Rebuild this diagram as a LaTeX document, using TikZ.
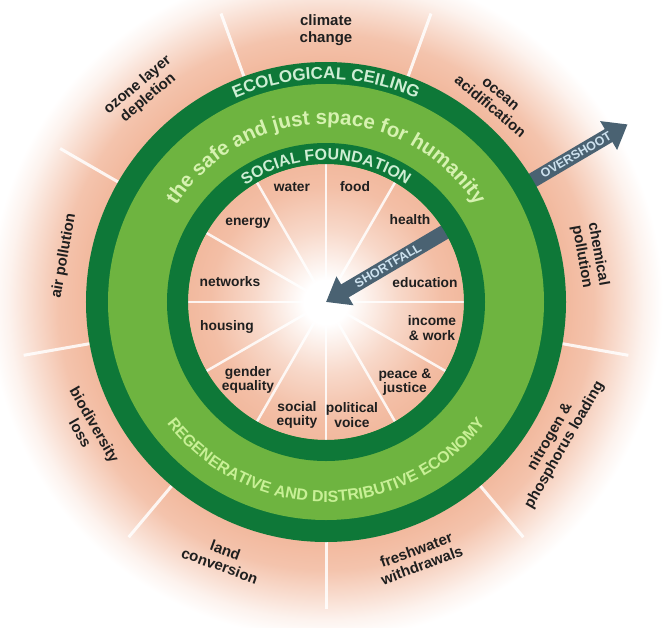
\documentclass[tikz,border=0pt]{standalone}
\usepackage{fontspec}
\setmainfont{Liberation Sans}
\usetikzlibrary{arrows.meta,decorations.text}

\definecolor{darkring}{RGB}{14,120,56}
\definecolor{lightring}{RGB}{110,180,64}
\definecolor{salmon}{RGB}{242,185,158}
\definecolor{slate}{RGB}{74,98,114}
\definecolor{mint}{RGB}{206,238,212}
\definecolor{leaf}{RGB}{214,242,176}
\definecolor{sprout}{RGB}{200,240,150}
\definecolor{sky}{RGB}{205,225,238}

% radius of the shaded disc = 25bp
\pgfdeclareradialshading{innerglow}{\pgfpoint{0bp}{0bp}}{color(0bp)=(white); color(4bp)=(white); color(13bp)=(salmon!55!white); color(21bp)=(salmon!92!white); color(25bp)=(salmon); color(50bp)=(salmon)}
\pgfdeclareradialshading{outerglow}{\pgfpoint{0bp}{0bp}}{color(0bp)=(salmon); color(17.4bp)=(salmon); color(19.4bp)=(salmon!85!white); color(21.2bp)=(salmon!52!white); color(23bp)=(salmon!18!white); color(24.4bp)=(white); color(50bp)=(white)}

\begin{document}
\begin{tikzpicture}[x=1pt,y=1pt,
    inner/.style={font=\bfseries\fontsize{13.8}{14.5}\selectfont, align=center, text=black!88},
    outer/.style={font=\bfseries\fontsize{15}{16.5}\selectfont, align=center, text=black!88},
    spoke/.style={white, opacity=0.85, line width=2.5pt},
    bigarrow/.style={slate, line width=15pt, -{Triangle[length=22pt,width=32pt]}},
    arrowtext/.style={font=\bfseries\fontsize{12.5}{12.5}\selectfont, text=sky}]
  \useasboundingbox (-326,-325) rectangle (337,302);
  \shade[shading=outerglow] (0,0) circle (345);
  \foreach \a in {-170,-130,...,150}
    \draw[spoke, line width=3pt] (\a:240) -- (\a:307);

  \coordinate (osTail) at (30.5:225);
  \coordinate (osTip) at (30.5:350);
  \draw[bigarrow] (osTail) -- (osTip);

  \fill[darkring] (0,0) circle (240);
  \fill[lightring] (0,0) circle (218);
  \shade[shading=innerglow] (0,0) circle (138);
  \foreach \a in {0,30,...,330}
    \draw[spoke] (0,0) -- (\a:139);

  \coordinate (sfTail) at (30.5:150);
  \coordinate (sfTip) at (0,0);
  \draw[bigarrow] (sfTail) -- (sfTip);
  \fill[darkring, even odd rule] (0,0) circle (159) (0,0) circle (138);

  % ring texts
  \path[decorate, decoration={text along path, text align=center, text color=mint,
      text={|\bfseries\fontsize{17}{17}\selectfont|ECOLOGICAL CEILING}}]
    (150:223) arc[start angle=150, end angle=30, radius=223];
  \path[decorate, decoration={text along path, text align=center, text color=leaf,
      text={|\bfseries\fontsize{20.5}{20.5}\selectfont|the safe and just space for humanity}}]
    (165:178) arc[start angle=165, end angle=15, radius=178];
  \path[decorate, decoration={text along path, text align=center, text color=mint,
      text={|\bfseries\fontsize{16}{16}\selectfont|SOCIAL FOUNDATION}}]
    (150:142) arc[start angle=150, end angle=30, radius=142];
  \path[decorate, decoration={text along path, text align=center, text color=sprout,
      text={|\bfseries\fontsize{16}{16}\selectfont|REGENERATIVE AND DISTRIBUTIVE ECONOMY}}]
    (-165:200) arc[start angle=-165, end angle=-15, radius=200];

  \node[arrowtext, rotate=30.5] (short) at (30.5:72) {SHORTFALL};
  \node[arrowtext, rotate=30.5] (over) at (30.5:290) {OVERSHOOT};

  % social foundation
  \node[inner] (food) at (29,115) {food};
  \node[inner] (water) at (-34,115) {water};
  \node[inner] (health) at (84,82) {health};
  \node[inner] (energy) at (-78,79) {energy};
  \node[inner] (education) at (99,19) {education};
  \node[inner] (networks) at (-96,20) {networks};
  \node[inner] (income) at (106,-26) {income\\\& work};
  \node[inner] (housing) at (-99,-25) {housing};
  \node[inner] (peace) at (79,-80) {peace \&\\justice};
  \node[inner] (gender) at (-78,-78) {gender\\equality};
  \node[inner] (political) at (26,-113) {political\\voice};
  \node[inner] (social) at (-29,-113) {social\\equity};

  % ecological ceiling
  \node[outer] (climate) at (90:272) {climate\\change};
  \node[outer, rotate=40] (ozone) at (131:279) {ozone layer\\depletion};
  \node[outer, rotate=-40] (ocean) at (50:263) {ocean\\acidification};
  \node[outer, rotate=-80] (chemical) at (10:268) {chemical\\pollution};
  \node[outer, rotate=80] (air) at (170:266) {air pollution};
  \node[outer, rotate=60] (nitrogen) at (-31:270) {nitrogen \&\\phosphorus loading};
  \node[outer, rotate=20] (freshwater) at (-70:272) {freshwater\\withdrawals};
  \node[outer, rotate=-20] (land) at (-112:276) {land\\conversion};
  \node[outer, rotate=-60] (biodiversity) at (-152:270) {biodiversity\\loss};
\end{tikzpicture}
\end{document}
